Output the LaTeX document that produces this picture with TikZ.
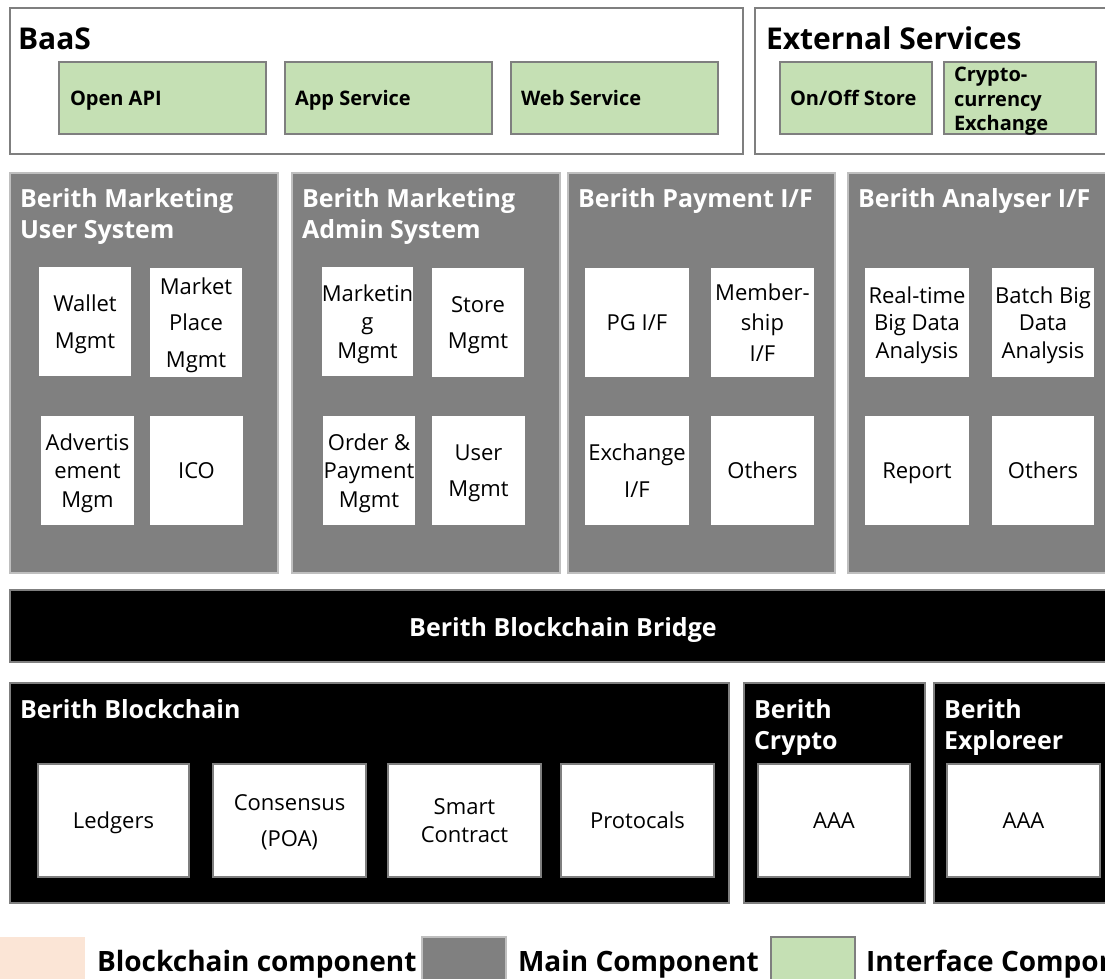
\documentclass[tikz,border=0pt]{standalone}
\usepackage{fontspec}
\setmainfont{Open Sans}
\usepackage{tikz}
\usetikzlibrary{fit,positioning}
\definecolor{boxgray}{HTML}{7F7F7F}
\definecolor{panelgray}{HTML}{808080}
\definecolor{paneledge}{HTML}{BFBFBF}
\definecolor{ifgreen}{HTML}{C5E0B4}
\definecolor{bcpeach}{HTML}{FBE5D6}

\begin{document}
\begin{tikzpicture}[x=0.75pt,y=-0.75pt,
  every node/.style={inner sep=0pt, outer sep=0pt},
  topbox/.style={draw=boxgray, line width=1.9pt, fill=white},
  ifbox/.style={draw=boxgray, line width=1.9pt, fill=ifgreen},
  mainbox/.style={draw=paneledge, line width=1.5pt, fill=panelgray},
  bcbox/.style={draw=boxgray, line width=1.5pt, fill=black},
  wbox/.style={fill=white},
  bwbox/.style={wbox, draw=boxgray, line width=1.5pt},
  wtext/.style={align=center, text depth=0pt, font=\fontsize{16.5}{27.5}\selectfont},
  bigtitle/.style={font=\fontsize{22.5}{27}\selectfont\bfseries},
  paneltitle/.style={font=\fontsize{18.75}{23.25}\selectfont\bfseries, text=white, align=left},
  iftext/.style={font=\fontsize{15}{18.4}\selectfont\bfseries, align=left},
  legendtext/.style={font=\fontsize{21}{25}\selectfont\bfseries}]
   \useasboundingbox (0,0) rectangle (1105,978);
   % BaaS and external services
   \node[topbox, fit={(10,8) (743,154)}] (baas) {};
   \node[bigtitle, anchor=north west] (baast) at (18,28) {BaaS};
   \node[ifbox, fit={(59,62) (266,134)}] (api) {};
   \node[iftext, text depth=0pt, anchor=west] (apit) at ([shift={(11,0)}]api.west) {Open API};
   \node[ifbox, fit={(285,62) (492,134)}] (app) {};
   \node[iftext, text depth=0pt, anchor=west] (appt) at ([shift={(10,0)}]app.west) {App Service};
   \node[ifbox, fit={(511,62) (718,134)}] (web) {};
   \node[iftext, text depth=0pt, anchor=west] (webt) at ([shift={(10,0)}]web.west) {Web Service};
   \node[topbox, fit={(755,8) (1115,154)}] (ext) {};
   \node[bigtitle, anchor=north west] (extt) at (766,27) {External Services};
   \node[ifbox, fit={(780,62) (932,134)}] (store) {};
   \node[iftext, text depth=0pt, anchor=west] (storet) at ([shift={(10,0)}]store.west) {On/Off Store};
   \node[ifbox, fit={(944,62) (1096,134)}] (xchg) {};
   \node[iftext, anchor=north west] (xchgt) at (954,67) {Crypto-\\currency\\Exchange};
   % main components
   \node[mainbox, fit={(10,173) (278,573)}] (usr) {};
   \node[paneltitle, anchor=north west] (usrt) at (20,189) {Berith Marketing\\User System};
   \node[wbox, fit={(39,267) (131,376)}] (wallet) {};
   \node[wtext] (wallett) at (wallet) {Wallet\\Mgmt};
   \node[wbox, fit={(150,268) (242,377)}] (mkt) {};
   \node[wtext] (mktt) at (mkt) {Market\\Place\\Mgmt};
   \node[wbox, fit={(41,416) (134,525)}] (adv) {};
   \node[wtext, font=\fontsize{16.5}{21.4}\selectfont] (advt) at (adv) {Advertis\\ement\\Mgm};
   \node[wbox, fit={(150,416) (243,525)}] (ico) {};
   \node[wtext] (icot) at (ico) {ICO};
   \node[mainbox, fit={(292,173) (560,573)}] (adm) {};
   \node[paneltitle, anchor=north west] (admt) at (302,189) {Berith Marketing\\Admin System};
   \node[wbox, fit={(322,267) (413,376)}] (mktg) {};
   \node[wtext, font=\fontsize{16.5}{21.4}\selectfont] (mktgt) at (mktg) {Marketin\\g\\Mgmt};
   \node[wbox, fit={(432,268) (524,377)}] (stor) {};
   \node[wtext] (stort) at (stor) {Store\\Mgmt};
   \node[wbox, fit={(323,416) (415,525)}] (order) {};
   \node[wtext, font=\fontsize{16.5}{21.4}\selectfont] (ordert) at (order) {Order \&\\Payment\\Mgmt};
   \node[wbox, fit={(432,416) (525,525)}] (user) {};
   \node[wtext] (usert) at (user) {User\\Mgmt};
   \node[mainbox, fit={(568,173) (835,573)}] (pay) {};
   \node[paneltitle, anchor=north west] (payt) at (578,189) {Berith Payment I/F};
   \node[wbox, fit={(585,268) (689,377)}] (pg) {};
   \node[wtext] (pgt) at (pg) {PG I/F};
   \node[wbox, fit={(711,268) (814,377)}] (member) {};
   \node[wtext, font=\fontsize{16.5}{23}\selectfont] (membert) at (member) {Member-\\ship\\I/F};
   \node[wbox, fit={(585,416) (689,525)}] (exif) {};
   \node[wtext] (exift) at (exif) {Exchange\\I/F};
   \node[wbox, fit={(711,416) (814,525)}] (payo) {};
   \node[wtext] (payot) at (payo) {Others};
   \node[mainbox, fit={(848,173) (1115,573)}] (ana) {};
   \node[paneltitle, anchor=north west] (anat) at (858,189) {Berith Analyser I/F};
   \node[wbox, fit={(865,268) (969,377)}] (rt) {};
   \node[wtext, font=\fontsize{16.5}{20.6}\selectfont] (rtt) at (rt) {Real-time\\Big Data\\Analysis};
   \node[wbox, fit={(992,268) (1094,377)}] (batch) {};
   \node[wtext, font=\fontsize{16.5}{20.6}\selectfont] (batcht) at (batch) {Batch Big\\Data\\Analysis};
   \node[wbox, fit={(865,416) (969,525)}] (rep) {};
   \node[wtext] (rept) at (rep) {Report};
   \node[wbox, fit={(992,416) (1094,525)}] (anao) {};
   \node[wtext] (anaot) at (anao) {Others};
   % blockchain
   \node[bcbox, fit={(10,590) (1115,662)}] (bridge) {};
   \node[paneltitle, text depth=0pt] (bridget) at (563,627) {Berith Blockchain Bridge};
   \node[bcbox, fit={(10,683) (729,903)}] (bc) {};
   \node[paneltitle, anchor=north west] (bct) at (20,699) {Berith Blockchain};
   \node[bwbox, fit={(38,764) (189,877)}] (ledg) {};
   \node[wtext] (ledgt) at (ledg) {Ledgers};
   \node[bwbox, fit={(213,764) (366,877)}] (cons) {};
   \node[wtext] (const) at (cons) {Consensus\\(POA)};
   \node[bwbox, fit={(388,764) (541,877)}] (smart) {};
   \node[wtext, font=\fontsize{16.5}{21}\selectfont] (smartt) at (smart) {Smart\\Contract};
   \node[bwbox, fit={(561,764) (714,877)}] (proto) {};
   \node[wtext] (protot) at (proto) {Protocals};
   \node[bcbox, fit={(744,683) (925,903)}] (cry) {};
   \node[paneltitle, anchor=north west] (cryt) at (754,699) {Berith\\Crypto};
   \node[bwbox, fit={(758,764) (910,877)}] (cryaaa) {};
   \node[wtext] (cryaaat) at (cryaaa) {AAA};
   \node[bcbox, fit={(934,683) (1115,903)}] (exp) {};
   \node[paneltitle, anchor=north west] (expt) at (944,699) {Berith\\Exploreer};
   \node[bwbox, fit={(947,764) (1100,877)}] (expaaa) {};
   \node[wtext] (expaaat) at (expaaa) {AAA};
   % legend
   \node[fill=bcpeach, fit={(0,937) (85,990)}] (lgbc) {};
   \node[legendtext, anchor=base west] (lgbct) at (97,971) {Blockchain component};
   \node[mainbox, fit={(422,937) (506,990)}] (lgmain) {};
   \node[legendtext, anchor=base west] (lgmaint) at (518,971) {Main Component};
   \node[ifbox, fit={(771,937) (855,990)}] (lgif) {};
   \node[legendtext, anchor=base west] (lgift) at (866,971) {Interface Component};
\end{tikzpicture}
\end{document}
